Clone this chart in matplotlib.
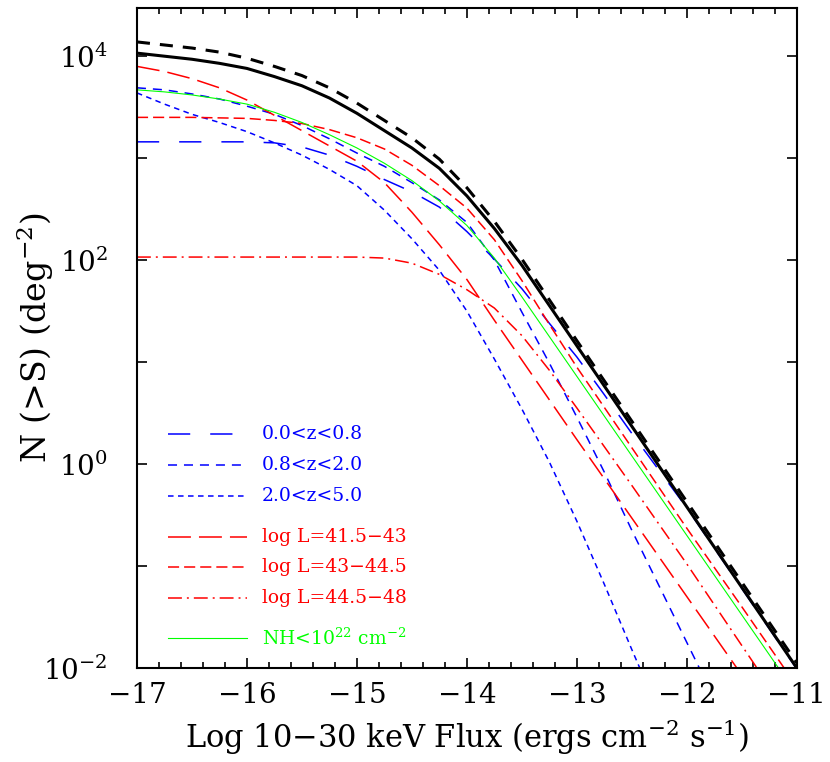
import matplotlib
matplotlib.use("Agg")
import matplotlib.pyplot as plt
from matplotlib.ticker import FixedLocator, FixedFormatter, MultipleLocator, NullLocator
import numpy as np

plt.rcParams['font.family'] = ['DejaVu Serif']
plt.rcParams['mathtext.fontset'] = 'dejavuserif'
plt.rcParams['lines.scale_dashes'] = False

# log10 flux (x) and log10 N(>S) (y)
flux_total = [-17, -16.75, -16.5, -16.25, -16, -15.75, -15.5, -15.25, -15, -14.75, -14.5, -14.25, -14, -13.75, -13.5, -13, -12.5, -12, -11.5, -11]
logn_total = [4.03, 4.00, 3.97, 3.93, 3.88, 3.80, 3.71, 3.59, 3.44, 3.27, 3.10, 2.90, 2.63, 2.31, 1.95, 1.16, 0.37, -0.42, -1.21, -2.0]
logn_total_all = [4.14, 4.11, 4.08, 4.04, 3.98, 3.90, 3.81, 3.69, 3.54, 3.37, 3.20, 2.99, 2.71, 2.38, 2.01, 1.21, 0.42, -0.37, -1.16, -1.95]

flux_z1 = [-17, -16.5, -16, -15.75, -15.5, -15.25, -15, -14.75, -14.5, -14.25, -14, -13.75, -13.5, -13.25, -13, -12.75, -12.5, -12, -11.5, -11]
logn_z1 = [3.16, 3.16, 3.16, 3.15, 3.11, 3.03, 2.92, 2.79, 2.67, 2.52, 2.28, 2.01, 1.72, 1.38, 1.05, 0.68, 0.30, -0.43, -1.22, -2.01]

flux_z2 = [-17, -16.75, -16.5, -16.25, -16, -15.75, -15.5, -15.25, -15, -14.75, -14.5, -14.25, -14, -13.75, -13.5, -13.25, -13, -12.75, -12.5, -12.25, -12, -11.85]
logn_z2 = [3.69, 3.67, 3.63, 3.58, 3.51, 3.43, 3.32, 3.19, 3.05, 2.92, 2.76, 2.59, 2.37, 2.00, 1.49, 0.99, 0.46, -0.08, -0.65, -1.20, -1.75, -2.08]

flux_z3 = [-17, -16.75, -16.5, -16.25, -16, -15.75, -15.5, -15.25, -15, -14.75, -14.5, -14.25, -14, -13.75, -13.5, -13.25, -13, -12.75, -12.5, -12.38]
logn_z3 = [3.64, 3.53, 3.43, 3.35, 3.26, 3.15, 3.03, 2.89, 2.73, 2.49, 2.21, 1.90, 1.50, 1.03, 0.54, 0.02, -0.56, -1.18, -1.82, -2.12]

flux_l1 = [-17, -16.75, -16.5, -16.25, -16, -15.75, -15.5, -15.25, -15, -14.75, -14.5, -14.25, -14, -13.75, -13.5, -13, -12.5, -12, -11.5]
logn_l1 = [3.90, 3.85, 3.78, 3.69, 3.57, 3.42, 3.27, 3.12, 2.97, 2.76, 2.47, 2.15, 1.81, 1.41, 1.02, 0.24, -0.53, -1.30, -2.07]

flux_l2 = [-17, -16.5, -16, -15.75, -15.5, -15.25, -15, -14.75, -14.5, -14.25, -14, -13.75, -13.5, -13.25, -13, -12.5, -12, -11.5, -11]
logn_l2 = [3.40, 3.40, 3.39, 3.37, 3.34, 3.28, 3.20, 3.09, 2.93, 2.73, 2.51, 2.20, 1.80, 1.37, 0.95, 0.16, -0.63, -1.40, -2.18]

flux_l3 = [-17, -16, -15, -14.75, -14.5, -14.25, -14, -13.75, -13.5, -13.25, -13, -12.5, -12, -11.5, -11.3]
logn_l3 = [2.03, 2.03, 2.03, 2.02, 1.97, 1.86, 1.71, 1.53, 1.26, 0.92, 0.55, -0.21, -0.98, -1.78, -2.1]

flux_nh = [-17, -16.75, -16.5, -16.25, -16, -15.75, -15.5, -15.25, -15, -14.75, -14.5, -14.25, -14, -13.75, -13.5, -13, -12.5, -12, -11.5, -11]
logn_nh = [3.67, 3.65, 3.62, 3.58, 3.53, 3.45, 3.35, 3.23, 3.10, 2.95, 2.78, 2.58, 2.34, 2.02, 1.64, 0.86, 0.08, -0.70, -1.48, -2.26]

labels = ['0.0<z<0.8', '0.8<z<2.0', '2.0<z<5.0',
          'log L=41.5\u221243', 'log L=43\u221244.5', 'log L=44.5\u221248',
          'NH<10$^{22}$ cm$^{-2}$']

fig = plt.figure(figsize=(8.3, 7.62), dpi=100)
ax = fig.add_axes([0.165, 0.1234, 0.795, 0.8667])

blue = '#0000ff'
red = '#ff0000'
green = '#00ff00'

styles = [
    (flux_z1, logn_z1, blue, 1.1, (0, (16, 14.4))),
    (flux_z2, logn_z2, blue, 1.1, (0, (6.5, 5.0))),
    (flux_z3, logn_z3, blue, 1.1, (0, (4.0, 3.2))),
    (flux_l1, logn_l1, red, 1.1, (0, (16.5, 5.8))),
    (flux_l2, logn_l2, red, 1.1, (0, (8.0, 3.6))),
    (flux_l3, logn_l3, red, 1.1, (0, (10, 3.6, 1.4, 3.6))),
    (flux_nh, logn_nh, green, 0.8, '-'),
]

for fx, ln, col, lw, ls in styles:
    ax.plot(fx, 10 ** np.array(ln), color=col, lw=lw, linestyle=ls)

ax.plot(flux_total, 10 ** np.array(logn_total), color='black', lw=2.2)
ax.plot(flux_total, 10 ** np.array(logn_total_all), color='black', lw=2.2,
        linestyle=(0, (9.4, 7.2)))

ax.set_yscale('log')
ax.set_xlim(-17, -11)
ax.set_ylim(1e-2, 3.0e4)

ax.xaxis.set_major_locator(MultipleLocator(1))
ax.xaxis.set_minor_locator(MultipleLocator(0.2))
decades = [10.0 ** k for k in range(-2, 5)]
ax.yaxis.set_major_locator(FixedLocator(decades))
ax.yaxis.set_major_formatter(FixedFormatter(['$10^{-2}$', '', '$10^{0}$', '', '$10^{2}$', '', '$10^{4}$']))
ax.yaxis.set_minor_locator(NullLocator())

ax.tick_params(which='both', direction='in', top=True, right=True, width=1.2, labelsize=20)
ax.tick_params(which='major', length=7)
ax.tick_params(which='minor', length=4)
ax.tick_params(axis='x', pad=10)
ax.tick_params(axis='y', pad=21)
for sp in ax.spines.values():
    sp.set_linewidth(1.5)

ax.set_xlabel('Log 10\u221230 keV Flux (ergs cm$^{-2}$ s$^{-1}$)', fontsize=22, labelpad=6)
ax.set_ylabel('N (>S) (deg$^{-2}$)', fontsize=24)
ax.yaxis.set_label_coords(-0.122, 0.5)

# legend drawn by hand
leg_y = [0.354, 0.307, 0.260, 0.198, 0.153, 0.106, 0.045]
for (fx, ln, col, lw, ls), lab, yy in zip(styles, labels, leg_y):
    ax.plot([0.047, 0.167], [yy, yy], transform=ax.transAxes, color=col, lw=lw, linestyle=ls)
    ax.text(0.189, yy, lab, transform=ax.transAxes, color=col, fontsize=13.5, va='center', ha='left')

fig.savefig('out.png', dpi=100)
